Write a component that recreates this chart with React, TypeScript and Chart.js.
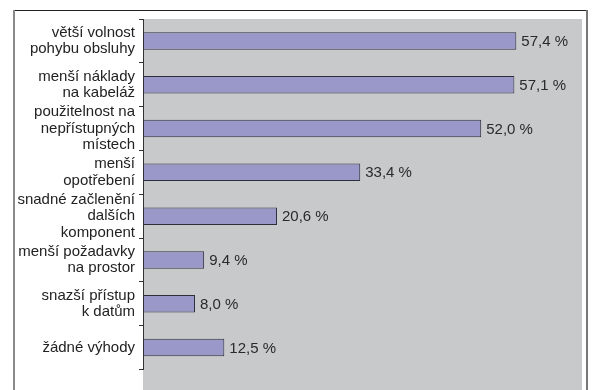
import React, { useEffect, useRef } from "react";
import { Chart, registerables } from "chart.js";

Chart.register(...registerables);

const categories: string[][] = [
  ["větší volnost", "pohybu obsluhy"],
  ["menší náklady", "na kabeláž"],
  ["použitelnost na", "nepřístupných", "místech"],
  ["menší", "opotřebení"],
  ["snadné začlenění", "dalších", "komponent"],
  ["menší požadavky", "na prostor"],
  ["snazší přístup", "k datům"],
  ["žádné výhody"],
];

const values: number[] = [57.4, 57.1, 52.0, 33.4, 20.6, 9.4, 8.0, 12.5];

const FONT = "'Liberation Sans', Arial, Helvetica, sans-serif";

const framePlugin = {
  id: "frame",
  beforeDraw(chart: any) {
    const { ctx, chartArea, width, height } = chart;
    ctx.save();
    ctx.fillStyle = "#ffffff";
    ctx.fillRect(0, 0, width, height);
    ctx.fillStyle = "#c8c9cb";
    ctx.fillRect(chartArea.left, chartArea.top, chartArea.right - chartArea.left, height - chartArea.top);
    ctx.strokeStyle = "#222";
    ctx.lineWidth = 1;
    ctx.beginPath();
    ctx.moveTo(13, 10.5);
    ctx.lineTo(587, 10.5);
    ctx.stroke();
    ctx.strokeStyle = "#8a8a8a";
    ctx.lineWidth = 2;
    ctx.beginPath();
    ctx.moveTo(14, 10);
    ctx.lineTo(14, height);
    ctx.stroke();
    ctx.strokeStyle = "#777";
    ctx.beginPath();
    ctx.moveTo(587, 10);
    ctx.lineTo(587, height);
    ctx.stroke();
    ctx.restore();
  },
};

const valueLabels = {
  id: "valueLabels",
  afterDatasetsDraw(chart: any) {
    const { ctx } = chart;
    const meta = chart.getDatasetMeta(0);
    ctx.save();
    ctx.fillStyle = "#2a2a2a";
    ctx.font = `15px ${FONT}`;
    ctx.textAlign = "left";
    ctx.textBaseline = "middle";
    meta.data.forEach((bar: any, i: number) => {
      const v = values[i];
      const txt = v.toFixed(1).replace(".", ",") + " %";
      ctx.fillText(txt, bar.x + 5, bar.y + 1);
    });
    ctx.restore();
  },
};

export default function App() {
  const ref = useRef<HTMLCanvasElement>(null);
  useEffect(() => {
    if (!ref.current) return;
    const chart = new Chart(ref.current, {
      type: "bar",
      data: {
        labels: categories,
        datasets: [
          {
            data: values,
            backgroundColor: "#9a98c9",
            borderColor: "#2e2e3a",
            borderWidth: 1,
            borderSkipped: false,
            categoryPercentage: 0.4,
            barPercentage: 1,
          },
        ],
      },
      options: {
        indexAxis: "y",
        responsive: false,
        animation: false,
        layout: { padding: { top: 19, right: 10, bottom: 2, left: 0 } },
        plugins: { legend: { display: false }, tooltip: { enabled: false } },
        scales: {
          x: { display: false, min: 0, max: 67.5 },
          y: {
            afterFit(scale: any) {
              scale.width = 143;
            },
            border: { display: true, color: "#333", width: 1 },
            grid: { display: true, offset: true, drawOnChartArea: false, drawTicks: true, tickLength: 4, color: "#333" },
            ticks: {
              autoSkip: false,
              color: "#222",
              padding: 4,
              font: { family: FONT, size: 15, lineHeight: 1.1 },
            },
          },
        },
      },
      plugins: [framePlugin, valueLabels],
    });
    return () => chart.destroy();
  }, []);
  return (
    <div style={{ position: "absolute", left: 0, top: 0, width: 592, height: 390 }}>
      <canvas ref={ref} width={592} height={390} />
    </div>
  );
}
